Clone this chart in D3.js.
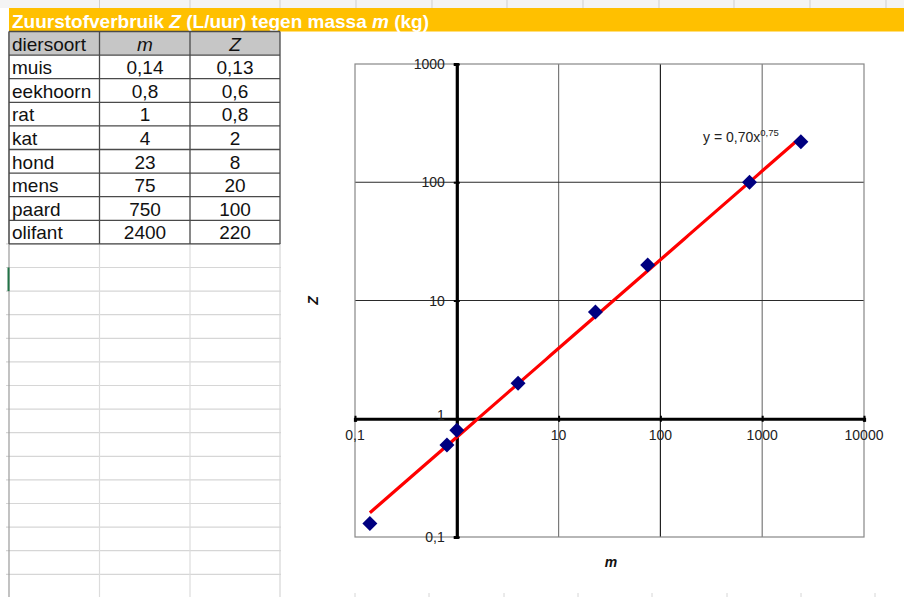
<!DOCTYPE html>
<html>
<head>
<meta charset="utf-8">
<script src="https://cdn.jsdelivr.net/npm/d3@7"></script>
<style>
  html, body { margin: 0; padding: 0; background: #fff; }
  svg { display: block; font-family: Arial, "Liberation Sans", sans-serif; }
</style>
</head>
<body>
<svg id="sheet" width="904" height="597"></svg>
<script>
// Zuurstofverbruik Z (L/uur) tegen massa m (kg)
const animals = ["muis", "eekhoorn", "rat", "kat", "hond", "mens", "paard", "olifant"];
const massLabels = ["0,14", "0,8", "1", "4", "23", "75", "750", "2400"];
const oxygenLabels = ["0,13", "0,6", "0,8", "2", "8", "20", "100", "220"];
const mass = [0.14, 0.8, 1, 4, 23, 75, 750, 2400];
const oxygen = [0.13, 0.6, 0.8, 2, 8, 20, 100, 220];
const xTicks = [0.1, 1, 10, 100, 1000, 10000];
const xTickLabels = ["0,1", "", "10", "100", "1000", "10000"];
const yTicks = [0.1, 1, 10, 100, 1000];
const yTickLabels = ["0,1", "1", "10", "100", "1000"];
const fitA = 0.70, fitB = 0.75;   // power trendline y = a·x^b
const fitLabel = "y = 0,70x", fitExpLabel = "0,75";

const svg = d3.select("#sheet");

// ---------- spreadsheet background ----------
const rowH = 23.6, headTop = 31.5;
const colX = [9, 99.5, 190, 280];
const cellFont = 19;
// top strip with column dividers
svg.append("rect").attr("x", 0).attr("y", 0).attr("width", 904).attr("height", 8).attr("fill", "#f4f4f4");
[99.5, 190, 280, 356, 432, 507, 583, 659, 734, 810, 886].forEach(x => {
  svg.append("line").attr("x1", x).attr("x2", x).attr("y1", 0).attr("y2", 8)
    .attr("stroke", "#cfcfcf").attr("stroke-width", 1);
});
// title bar
svg.append("rect").attr("x", 9).attr("y", 8).attr("width", 895).attr("height", 23.5).attr("fill", "#FFC000");
const title = svg.append("text").attr("x", 12).attr("y", 27.5)
  .attr("fill", "#fff").attr("font-weight", "bold").attr("font-size", 19);
title.append("tspan").text("Zuurstofverbruik ");
title.append("tspan").attr("font-style", "italic").text("Z");
title.append("tspan").text(" (L/uur) tegen massa ");
title.append("tspan").attr("font-style", "italic").text("m");
title.append("tspan").text(" (kg)");

// empty grid rows below the table
for (let y = headTop + rowH * 9; y < 600; y += rowH) {
  svg.append("line").attr("x1", 6).attr("x2", 281).attr("y1", y).attr("y2", y)
    .attr("stroke", "#d6d6d6").attr("stroke-width", 1.2);
}
[99.5, 190].forEach(x => {
  svg.append("line").attr("x1", x).attr("x2", x).attr("y1", headTop + rowH * 9).attr("y2", 597)
    .attr("stroke", "#dcdcdc").attr("stroke-width", 1.2);
});
svg.append("line").attr("x1", 280).attr("x2", 280).attr("y1", headTop + rowH * 9).attr("y2", 597)
  .attr("stroke", "#d6d6d6").attr("stroke-width", 1.2);
svg.append("line").attr("x1", 9).attr("x2", 9).attr("y1", headTop).attr("y2", 597)
  .attr("stroke", "#9a9a9a").attr("stroke-width", 1.2);
// active cell marker
svg.append("rect").attr("x", 7.5).attr("y", headTop + rowH * 10).attr("width", 2).attr("height", rowH)
  .attr("fill", "#217346");

// header row
svg.append("rect").attr("x", colX[0]).attr("y", headTop).attr("width", colX[3] - colX[0]).attr("height", rowH)
  .attr("fill", "#c6c6c6");
const tableRows = animals.map((a, i) => ({ name: a, m: massLabels[i], z: oxygenLabels[i] }));
const headerCells = [
  { text: "diersoort", x: 12, anchor: "start", italic: false },
  { text: "m", x: 145, anchor: "middle", italic: true },
  { text: "Z", x: 235, anchor: "middle", italic: true }
];
headerCells.forEach(c => {
  svg.append("text").attr("x", c.x).attr("y", headTop + 19).attr("text-anchor", c.anchor)
    .attr("font-size", cellFont).attr("fill", "#111").attr("font-style", c.italic ? "italic" : "normal")
    .text(c.text);
});
tableRows.forEach((r, i) => {
  const top = headTop + rowH * (i + 1);
  svg.append("text").attr("x", 12).attr("y", top + 19).attr("font-size", cellFont).attr("fill", "#111").text(r.name);
  svg.append("text").attr("x", 145).attr("y", top + 19).attr("text-anchor", "middle").attr("font-size", cellFont).attr("fill", "#111").text(r.m);
  svg.append("text").attr("x", 235).attr("y", top + 19).attr("text-anchor", "middle").attr("font-size", cellFont).attr("fill", "#111").text(r.z);
});
// table borders
for (let k = 0; k <= 9; k++) {
  const y = headTop + rowH * k;
  svg.append("line").attr("x1", colX[0]).attr("x2", colX[3]).attr("y1", y).attr("y2", y)
    .attr("stroke", "#4a4a4a").attr("stroke-width", 1.3);
}
colX.forEach(x => {
  svg.append("line").attr("x1", x).attr("x2", x).attr("y1", headTop).attr("y2", headTop + rowH * 9)
    .attr("stroke", "#4a4a4a").attr("stroke-width", 1.3);
});
// faint sheet column marks below the chart
[355, 429, 504, 578, 652, 727, 801, 875].forEach(x => {
  svg.append("line").attr("x1", x).attr("x2", x).attr("y1", 593).attr("y2", 597)
    .attr("stroke", "#d6d6d6").attr("stroke-width", 1);
});

// ---------- chart ----------
const plot = { left: 355, right: 864, top: 64, bottom: 537 };
const x = d3.scaleLog().domain([0.1, 10000]).range([plot.left, plot.right]);
const y = d3.scaleLog().domain([0.1, 1000]).range([plot.bottom, plot.top]);

const chart = svg.append("g");
// vertical gridlines
const vGridColor = { 10: "#7a7a7a", 100: "#222", 1000: "#7a7a7a" };
[10, 100, 1000].forEach(v => {
  chart.append("line").attr("x1", x(v)).attr("x2", x(v)).attr("y1", plot.top).attr("y2", plot.bottom)
    .attr("stroke", vGridColor[v]).attr("stroke-width", 1.2);
});
// horizontal gridlines
[10, 100].forEach(v => {
  chart.append("line").attr("x1", plot.left).attr("x2", plot.right).attr("y1", y(v)).attr("y2", y(v))
    .attr("stroke", "#2a2a2a").attr("stroke-width", 1.2);
});
// plot border
chart.append("rect").attr("x", plot.left).attr("y", plot.top)
  .attr("width", plot.right - plot.left).attr("height", plot.bottom - plot.top)
  .attr("fill", "none").attr("stroke", "#888").attr("stroke-width", 1.2);

// axes crossing at (1, 1)
const yAxis = d3.axisLeft(y).tickValues(yTicks).tickSize(3).tickFormat("");
const xAxis = d3.axisBottom(x).tickValues(xTicks).tickSize(3).tickFormat("");
chart.append("g").attr("transform", `translate(${x(1)},0)`).call(yAxis)
  .call(g => g.select(".domain").attr("stroke", "#000").attr("stroke-width", 3.2))
  .call(g => g.selectAll(".tick line").attr("stroke", "#000").attr("stroke-width", 2).attr("x2", 3).attr("x1", -3));
chart.append("g").attr("transform", `translate(0,${y(1)})`).call(xAxis)
  .call(g => g.select(".domain").attr("stroke", "#000").attr("stroke-width", 3.2))
  .call(g => g.selectAll(".tick line").attr("stroke", "#000").attr("stroke-width", 2).attr("y1", -3).attr("y2", 3));

// tick labels
yTicks.forEach((v, i) => {
  chart.append("text").attr("x", x(1) - 12).attr("y", y(v) + (v === 1 ? -4 : 0))
    .attr("dy", "0.36em").attr("text-anchor", "end").attr("font-size", 14).attr("fill", "#222")
    .text(yTickLabels[i]);
});
xTicks.forEach((v, i) => {
  chart.append("text").attr("x", x(v)).attr("y", y(1) + 16)
    .attr("dy", "0.36em").attr("text-anchor", "middle").attr("font-size", 14).attr("fill", "#222")
    .text(xTickLabels[i]);
});

// axis titles
chart.append("text").attr("transform", `translate(318,${y(10)}) rotate(-90)`)
  .attr("text-anchor", "middle").attr("font-size", 14).attr("font-weight", "bold").attr("font-style", "italic")
  .attr("fill", "#111").text("Z");
chart.append("text").attr("x", 611).attr("y", 567)
  .attr("text-anchor", "middle").attr("font-size", 14).attr("font-weight", "bold").attr("font-style", "italic")
  .attr("fill", "#111").text("m");

// power trendline over the data range
const xMin = d3.min(mass), xMax = d3.max(mass);
const fitX = d3.range(0, 101).map(k => xMin * Math.pow(xMax / xMin, k / 100));
const fitLine = d3.line().x(d => x(d)).y(d => y(fitA * Math.pow(d, fitB)));
chart.append("path").datum(fitX).attr("d", fitLine)
  .attr("fill", "none").attr("stroke", "#FF0000").attr("stroke-width", 3.2);

// data markers (navy diamonds)
const pts = mass.map((m, i) => ({ m, z: oxygen[i] }));
const r = 7.5;
chart.selectAll("path.pt").data(pts).enter().append("path").attr("class", "pt")
  .attr("d", d => {
    const cx = x(d.m), cy = y(d.z);
    return `M${cx},${cy - r}L${cx + r},${cy}L${cx},${cy + r}L${cx - r},${cy}Z`;
  })
  .attr("fill", "#000080");

// trendline equation
const eq = chart.append("text").attr("x", 703).attr("y", 142).attr("font-size", 14).attr("fill", "#222");
eq.append("tspan").text(fitLabel);
eq.append("tspan").attr("font-size", 9.5).attr("dy", -6).text(fitExpLabel);
</script>
</body>
</html>
